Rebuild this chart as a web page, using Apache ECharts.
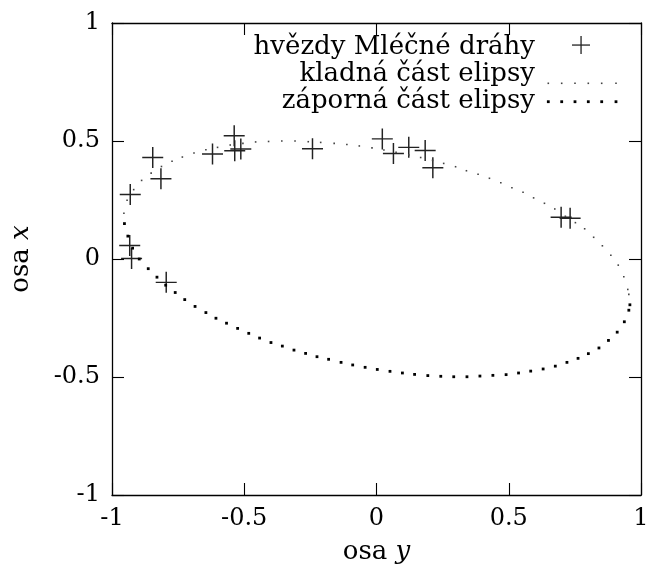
<!DOCTYPE html>
<html><head><meta charset="utf-8">
<script src="https://cdn.jsdelivr.net/npm/echarts@6/dist/echarts.min.js"></script>
<style>html,body{margin:0;padding:0;background:#fff}#c{width:652px;height:570px}</style>
</head><body><div id="c"></div>
<script>
// Data
const seriesNames = ['hvězdy Mléčné dráhy', 'kladná část elipsy', 'záporná část elipsy'];
const axisTicks = [-1, -0.5, 0, 0.5, 1];

const stars = [
  [-0.538, 0.522], [-0.846, 0.430], [-0.620, 0.445], [-0.536, 0.459], [-0.513, 0.466],
  [-0.242, 0.467], [-0.815, 0.340], [-0.931, 0.273], [-0.933, 0.057], [-0.926, 0.002],
  [-0.795, -0.099], [0.022, 0.509], [0.064, 0.447], [0.122, 0.473], [0.184, 0.460],
  [0.213, 0.387], [0.698, 0.177], [0.732, 0.173]
];

const ellipsePositive = [
  [-0.955, 0.194], [-0.943, 0.249], [-0.918, 0.294], [-0.888, 0.333], [-0.852, 0.364],
  [-0.813, 0.392], [-0.773, 0.414], [-0.734, 0.432], [-0.690, 0.449], [-0.645, 0.463],
  [-0.601, 0.473], [-0.553, 0.483], [-0.505, 0.490], [-0.457, 0.496], [-0.408, 0.498],
  [-0.358, 0.500], [-0.308, 0.500], [-0.258, 0.497], [-0.211, 0.494], [-0.160, 0.490],
  [-0.112, 0.485], [-0.065, 0.479], [-0.017, 0.471], [0.028, 0.462], [0.074, 0.452],
  [0.122, 0.441], [0.167, 0.430], [0.212, 0.418], [0.254, 0.405], [0.299, 0.391],
  [0.340, 0.374], [0.384, 0.359], [0.427, 0.342], [0.470, 0.323], [0.512, 0.302],
  [0.554, 0.283], [0.594, 0.259], [0.635, 0.236], [0.674, 0.212], [0.714, 0.181],
  [0.752, 0.154], [0.787, 0.128], [0.821, 0.092], [0.854, 0.056], [0.886, 0.016],
  [0.914, -0.026], [0.935, -0.075], [0.950, -0.129], [0.954, -0.150]
];

const ellipseNegative = [
  [-0.953, 0.150], [-0.940, 0.097], [-0.922, 0.046], [-0.897, 0.000], [-0.863, -0.041],
  [-0.830, -0.077], [-0.797, -0.111], [-0.761, -0.142], [-0.725, -0.172], [-0.686, -0.201],
  [-0.645, -0.227], [-0.607, -0.251], [-0.567, -0.272], [-0.525, -0.294], [-0.483, -0.315],
  [-0.442, -0.335], [-0.399, -0.354], [-0.356, -0.369], [-0.312, -0.386], [-0.268, -0.400],
  [-0.225, -0.414], [-0.181, -0.425], [-0.134, -0.438], [-0.090, -0.449], [-0.043, -0.459],
  [0.003, -0.468], [0.051, -0.476], [0.098, -0.483], [0.144, -0.489], [0.194, -0.494],
  [0.243, -0.497], [0.292, -0.499], [0.342, -0.499], [0.391, -0.496], [0.440, -0.493],
  [0.490, -0.490], [0.537, -0.483], [0.583, -0.475], [0.630, -0.466], [0.676, -0.454],
  [0.720, -0.438], [0.762, -0.421], [0.801, -0.401], [0.841, -0.377], [0.877, -0.345],
  [0.910, -0.310], [0.937, -0.266], [0.954, -0.217], [0.958, -0.194]
];

const FONT = 'DejaVu Serif';
const FS = 24;
const FS_BIG = 26;
const plusPath = 'path://M0,9.3H20V10.7H0Z M9.3,0H10.7V20H9.3Z';

const chart = echarts.init(document.getElementById('c'), null, {renderer: 'canvas'});

function axisDef(pos, showLabels) {
  return {
    type: 'value', min: axisTicks[0], max: axisTicks[axisTicks.length - 1],
    interval: axisTicks[1] - axisTicks[0], position: pos,
    axisLine: {show: true, onZero: false, lineStyle: {color: '#000', width: 1.3}},
    axisTick: {show: true, inside: true, length: 12, lineStyle: {color: '#000', width: 1.1}},
    axisLabel: {show: showLabels, color: '#000', fontFamily: FONT, fontSize: FS, margin: 12},
    splitLine: {show: false}
  };
}
const nameStyle = {color: '#000', fontFamily: FONT, fontSize: FS_BIG,
  rich: {i: {fontFamily: FONT, fontStyle: 'italic', fontSize: FS_BIG, color: '#000'}}};

const xA0 = axisDef('bottom', true);
Object.assign(xA0, {name: 'osa {i|y}', nameLocation: 'middle', nameGap: 44, nameTextStyle: nameStyle});
const xA1 = axisDef('top', false);
const yA0 = axisDef('left', true);
Object.assign(yA0, {name: 'osa {i|x}', nameLocation: 'middle', nameGap: 78, nameTextStyle: nameStyle});
const yA1 = axisDef('right', false);

// Legend drawn as graphic elements (layout only)
const legendTextRight = 535;
const legendRowsY = [47, 74, 101];
const legendDotX = [548.3, 561.7, 575, 588.3, 601.7, 616];
const graphics = [];
seriesNames.forEach((n, i) => {
  graphics.push({type: 'text', x: legendTextRight, y: legendRowsY[i], silent: true,
    style: {text: n, textAlign: 'right', textVerticalAlign: 'middle', fill: '#000',
      font: FS_BIG + 'px "' + FONT + '"'}});
});
graphics.push({type: 'rect', shape: {x: 572, y: 44.4, width: 18, height: 1.3}, style: {fill: '#222'}, silent: true});
graphics.push({type: 'rect', shape: {x: 580.4, y: 36, width: 1.3, height: 18}, style: {fill: '#222'}, silent: true});
legendDotX.forEach(x => {
  graphics.push({type: 'rect', shape: {x: x - 0.8, y: 82.5, width: 1.6, height: 1.6}, style: {fill: '#444'}, silent: true});
  graphics.push({type: 'rect', shape: {x: x - 1.4, y: 100.3, width: 2.8, height: 2.8}, style: {fill: '#000'}, silent: true});
});

chart.setOption({
  animation: false,
  backgroundColor: '#fff',
  grid: {left: 111, right: 11, top: 23, bottom: 74},
  xAxis: [xA0, xA1],
  yAxis: [yA0, yA1],
  graphic: graphics,
  series: [
    {name: seriesNames[0], type: 'scatter', data: stars, symbol: plusPath, symbolSize: 21,
      itemStyle: {color: '#222', opacity: 1}, z: 3},
    {name: seriesNames[1], type: 'scatter', data: ellipsePositive, symbol: 'rect', symbolSize: 1.6,
      itemStyle: {color: '#444', opacity: 1}, z: 4},
    {name: seriesNames[2], type: 'scatter', data: ellipseNegative, symbol: 'rect', symbolSize: 2.8,
      itemStyle: {color: '#000', opacity: 1}, z: 4}
  ]
});
</script>
</body></html>
